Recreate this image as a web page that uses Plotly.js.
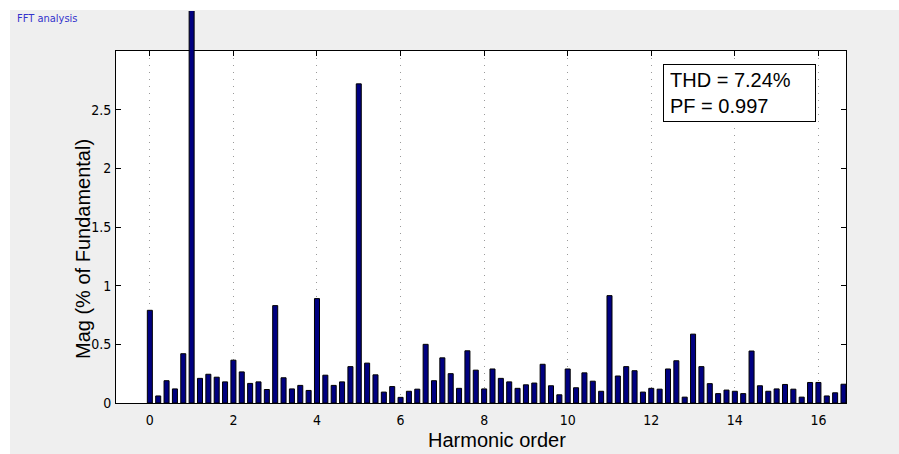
<!DOCTYPE html>
<html>
<head>
<meta charset="utf-8">
<script src="https://cdn.plot.ly/plotly-3.0.1.min.js"></script>
<style>
html,body{margin:0;padding:0;background:#ffffff;}
#chart{position:absolute;left:10px;top:10px;width:889px;height:444px;}
</style>
</head>
<body>
<div id="chart"></div>
<script>
// Harmonic order of each spectral line (10 Hz resolution, 50 Hz fundamental)
const harmonicOrder = [0,0.2,0.4,0.6,0.8,1,1.2,1.4,1.6,1.8,2,2.2,2.4,2.6,2.8,3,3.2,3.4,3.6,3.8,4,4.2,4.4,4.6,4.8,5,5.2,5.4,5.6,5.8,6,6.2,6.4,6.6,6.8,7,7.2,7.4,7.6,7.8,8,8.2,8.4,8.6,8.8,9,9.2,9.4,9.6,9.8,10,10.2,10.4,10.6,10.8,11,11.2,11.4,11.6,11.8,12,12.2,12.4,12.6,12.8,13,13.2,13.4,13.6,13.8,14,14.2,14.4,14.6,14.8,15,15.2,15.4,15.6,15.8,16,16.2,16.4,16.6];
// Magnitude in % of fundamental
const magnitude = [0.79,0.06,0.19,0.12,0.42,100,0.21,0.245,0.22,0.18,0.365,0.265,0.167,0.18,0.115,0.83,0.215,0.12,0.15,0.107,0.89,0.237,0.15,0.18,0.31,2.72,0.34,0.24,0.093,0.14,0.048,0.10,0.118,0.50,0.19,0.385,0.25,0.125,0.445,0.28,0.12,0.29,0.21,0.18,0.125,0.155,0.17,0.33,0.147,0.07,0.29,0.13,0.257,0.186,0.10,0.915,0.23,0.31,0.275,0.093,0.125,0.118,0.29,0.36,0.05,0.587,0.31,0.165,0.08,0.11,0.10,0.08,0.443,0.147,0.10,0.12,0.158,0.118,0.05,0.175,0.175,0.06,0.087,0.16];
const xTicks = [0,2,4,6,8,10,12,14,16];
const yTicks = [0,0.5,1,1.5,2,2.5];
const yTickText = ['0','0.5','1','1.5','2','2.5'];
const infoLines = ['THD = 7.24%','PF = 0.997'];
const figTitle = 'FFT analysis';
const xTitle = 'Harmonic order';
const yTitle = 'Mag (% of Fundamental)';

const xRange = [-0.81, 16.66];
const frameTop = 3;
const barTop = 3.341;
const frameFrac = frameTop / barTop;

// plot area in div pixels
const L = 106, T = 1, W = 730, H = 392;
const px = v => (v - L) / W;
const py = v => (T + H - v) / H;

const tickFont = {family: "'Liberation Sans Narrow', 'Arial Narrow', 'DejaVu Sans Condensed', sans-serif", size: 14, color: '#000'};
const labelFont = {family: "'Liberation Sans', Arial, sans-serif", size: 20, color: '#000'};

const traces = [
  {
    type: 'bar', x: harmonicOrder, y: magnitude, xaxis: 'x2', yaxis: 'y',
    width: 0.12,
    marker: {color: '#000080', line: {color: '#000', width: 1}},
    hoverinfo: 'x+y', showlegend: false
  },
  {
    type: 'scatter', x: [], y: [], xaxis: 'x', yaxis: 'y2', showlegend: false, hoverinfo: 'skip'
  }
];

const layout = {
  width: 889, height: 444,
  margin: {l: L, r: 889 - L - W, t: T, b: 444 - T - H},
  paper_bgcolor: '#efefef',
  plot_bgcolor: 'rgba(0,0,0,0)',
  showlegend: false,
  xaxis: {
    domain: [0,1], range: xRange, anchor: 'y2',
    tickvals: xTicks, tickfont: tickFont,
    ticks: 'inside', ticklen: 5, tickcolor: '#000', tickwidth: 1,
    ticklabelstandoff: 4,
    showline: true, linecolor: '#000', linewidth: 1, mirror: 'ticks',
    showgrid: true, gridcolor: '#9a9a9a', griddash: '1px,6px', gridwidth: 1,
    zeroline: false
  },
  yaxis2: {
    domain: [0, frameFrac], range: [0, frameTop], anchor: 'x',
    tickvals: yTicks, ticktext: yTickText, tickfont: tickFont,
    ticks: 'inside', ticklen: 5, tickcolor: '#000', tickwidth: 1,
    ticklabelstandoff: 1,
    showline: true, linecolor: '#000', linewidth: 1, mirror: 'ticks',
    showgrid: false, zeroline: false
  },
  xaxis2: {domain: [0,1], range: xRange, anchor: 'y', visible: false, showgrid: false, zeroline: false},
  yaxis: {domain: [0,1], range: [0, barTop], anchor: 'x2', visible: false, showgrid: false, zeroline: false},
  shapes: [
    {type: 'rect', xref: 'paper', yref: 'paper', x0: 0, x1: 1, y0: 0, y1: frameFrac,
     fillcolor: '#ffffff', line: {width: 0}, layer: 'below'}
  ],
  annotations: [
    {xref: 'paper', yref: 'paper', x: px(5), y: py(8), xanchor: 'left', yanchor: 'middle',
     text: figTitle, showarrow: false,
     font: {family: "'Liberation Sans Narrow', 'Arial Narrow', 'DejaVu Sans Condensed', sans-serif", size: 11, color: '#3333cc'}},
    {xref: 'paper', yref: 'paper', x: px(653), y: py(54), xanchor: 'left', yanchor: 'top',
     text: infoLines.join('<br>'), align: 'left', valign: 'middle', showarrow: false,
     width: 139, height: 44,
     font: labelFont, bgcolor: '#ffffff', bordercolor: '#000', borderwidth: 1, borderpad: 6},
    {xref: 'paper', yref: 'paper', x: px(487), y: py(430), xanchor: 'center', yanchor: 'middle',
     text: xTitle, showarrow: false, font: labelFont},
    {xref: 'paper', yref: 'paper', x: px(73), y: py(239), xanchor: 'center', yanchor: 'middle',
     text: yTitle, textangle: -90, showarrow: false, font: labelFont}
  ]
};

Plotly.newPlot('chart', traces, layout, {displayModeBar: false, responsive: false});
</script>
</body>
</html>
